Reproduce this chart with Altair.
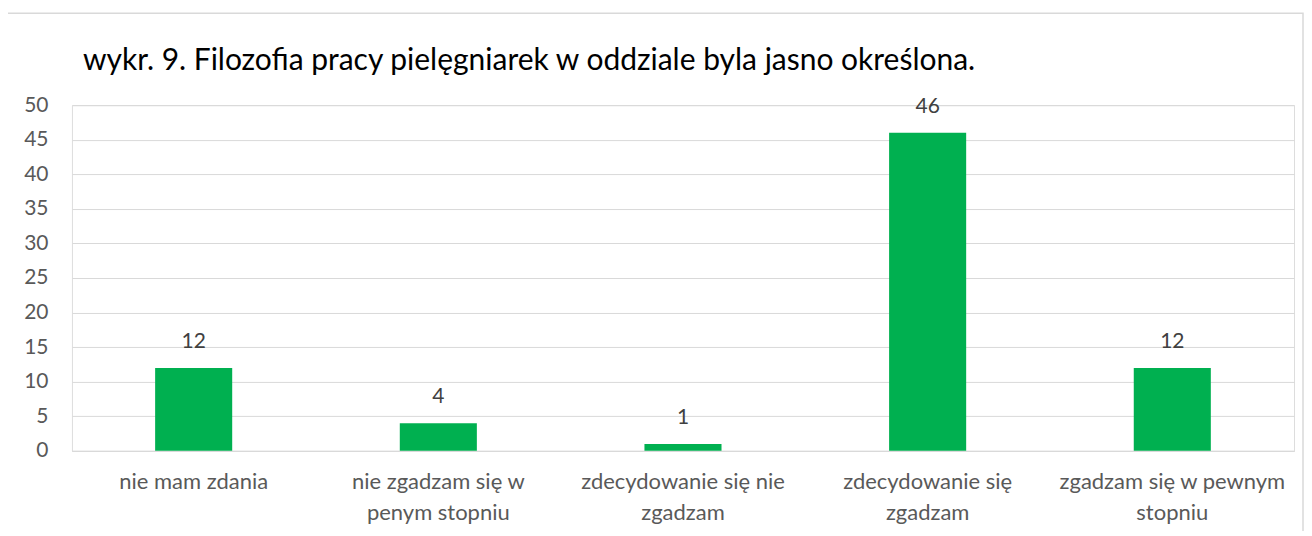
import altair as alt
import pandas as pd

categories = [
    "nie mam zdania",
    "nie zgadzam się w|penym stopniu",
    "zdecydowanie się nie|zgadzam",
    "zdecydowanie się|zgadzam",
    "zgadzam się w pewnym|stopniu",
]
values = [12, 4, 1, 46, 12]
y_ticks = list(range(0, 51, 5))
title_text = "wykr. 9. Filozofia pracy pielęgniarek w oddziale byla jasno określona."

df = pd.DataFrame({"cat": categories, "val": values})
title_df = pd.DataFrame({"t": [title_text]})

FONT = "Lato"
GREEN = "#00B050"

base = alt.Chart(df)

x_enc = alt.X(
    "cat:N",
    sort=categories,
    title=None,
    scale=alt.Scale(paddingInner=0.685, paddingOuter=0.34),
    axis=alt.Axis(
        labelExpr="split(datum.label, '|')",
        labelAngle=0,
        labelFont=FONT,
        labelFontSize=22,
        labelColor="#595959",
        labelLineHeight=31,
        labelPadding=21,
        labelBaseline="top",
        labelLimit=400,
        ticks=False,
        domainColor="#D9D9D9",
        domainWidth=1,
    ),
)

y_enc = alt.Y(
    "val:Q",
    title=None,
    scale=alt.Scale(domain=[0, 50], nice=False),
    axis=alt.Axis(
        values=y_ticks,
        labelFont=FONT,
        labelFontSize=21,
        labelColor="#595959",
        labelPadding=24,
        labelOverlap=False,
        ticks=False,
        domain=False,
        gridColor="#D9D9D9",
        gridWidth=1,
    ),
)

bars = base.mark_bar(color=GREEN).encode(x=x_enc, y=y_enc)

labels = base.mark_text(
    font=FONT, fontSize=21, color="#404040", dy=-16, baseline="bottom"
).encode(x=x_enc, y=y_enc, text="val:Q")

border = alt.Chart(title_df).mark_rect(
    fill=None, stroke="#D9D9D9", strokeWidth=1.5
).encode(
    x=alt.value(-65), x2=alt.value(1232), y=alt.value(-92), y2=alt.value(440)
)

title = alt.Chart(title_df).mark_text(
    font=FONT, fontSize=30, fontWeight="normal", color="#000000",
    align="left", baseline="alphabetic"
).encode(
    x=alt.value(11), y=alt.value(-35), text="t:N"
)

chart = (
    alt.layer(border, bars, labels, title)
    .properties(
        width=1223,
        height=346,
        autosize=alt.AutoSizeParams(type="none"),
        padding={"left": 64, "top": 97, "right": 10, "bottom": 80},
    )
    .configure_view(stroke=None)
    .configure(background="white")
)

chart.save("out.html", embed_options={"renderer": "svg", "actions": False})
